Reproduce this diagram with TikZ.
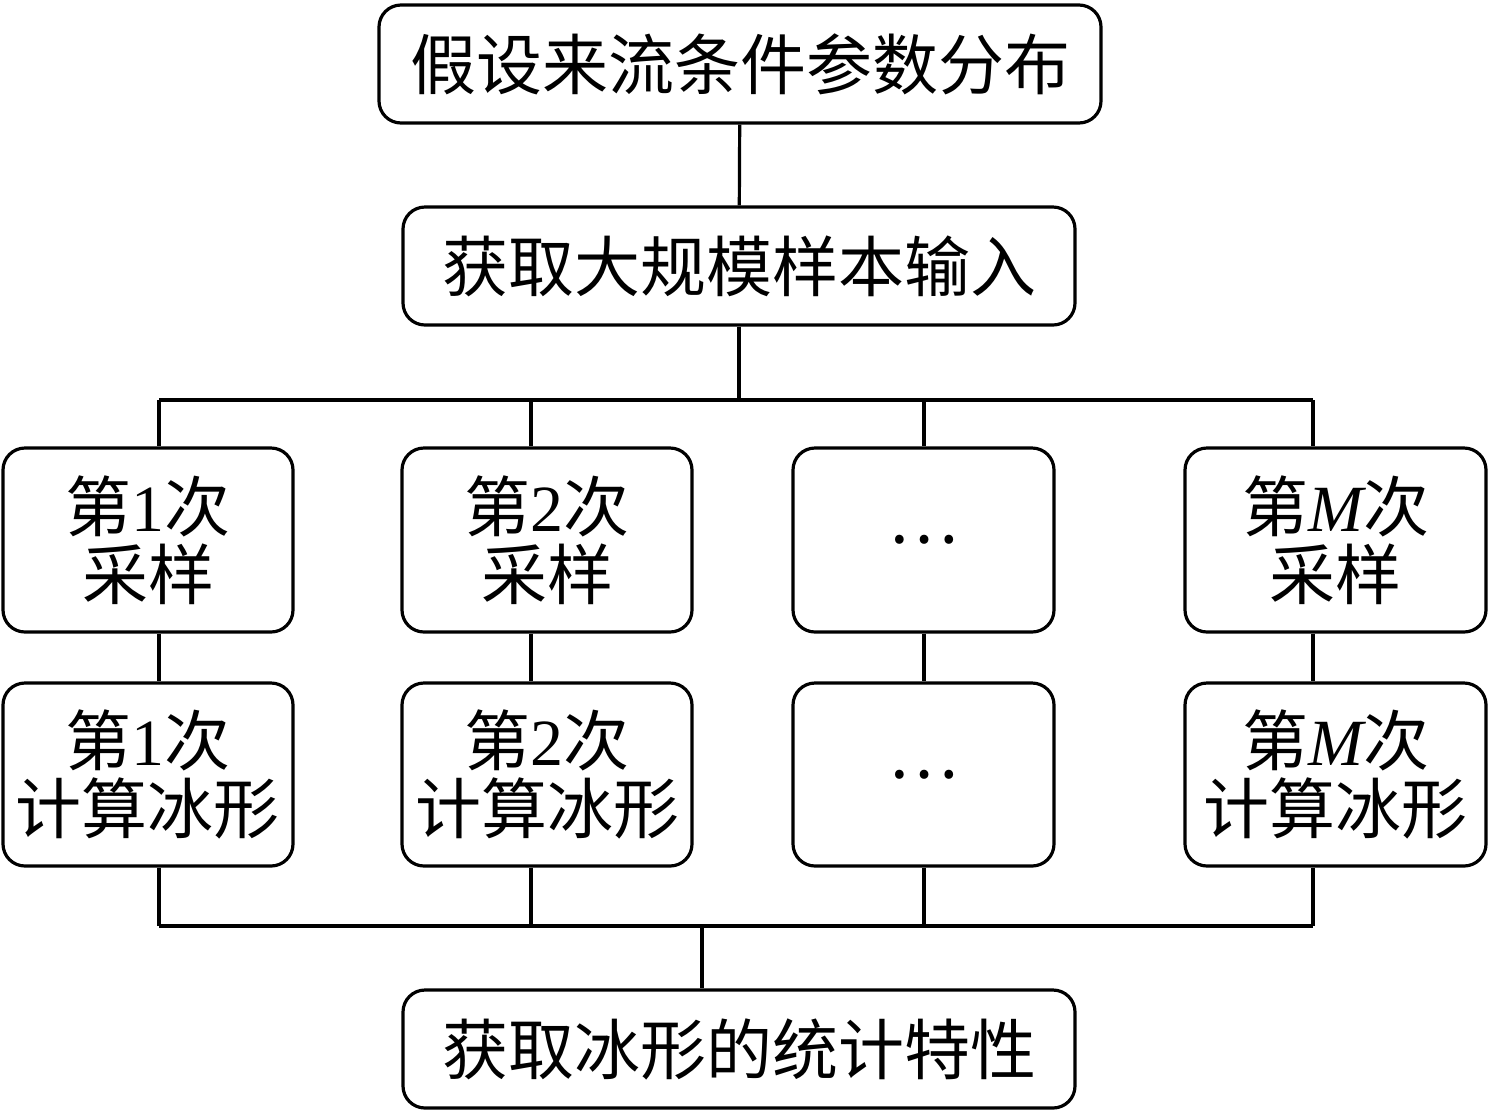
\documentclass[tikz,border=0pt]{standalone}
\usepackage{fontspec}
\setmainfont{Noto Sans CJK SC}
\newfontfamily\lat{Liberation Serif}
\usetikzlibrary{positioning}

\begin{document}
\begin{tikzpicture}[x=0.5pt,y=-0.5pt,line width=1.6pt,
    box/.style={draw,rounded corners=11pt,align=center,inner sep=0pt,
      font=\fontsize{33}{34}\selectfont}]
    \useasboundingbox (0,0) rectangle (1488,1115);

    \node[box,minimum width=361pt,minimum height=59pt] (assume) at (740,64) {假设来流条件参数分布};
    \node[box,minimum width=336pt,minimum height=59pt] (input) at (739,266) {获取大规模样本输入};

    \node[box,minimum width=145pt,minimum height=92pt] (samp1) at (148,540) {第{\lat 1}次\\采样};
    \node[box,minimum width=145pt,minimum height=92pt] (samp2) at (547,540) {第{\lat 2}次\\采样};
    \node[box,minimum width=130.5pt,minimum height=92pt] (samp3) at (923.5,540) {…};
    \node[box,minimum width=150.5pt,minimum height=92pt] (samp4) at (1335.5,540) {第{\lat\itshape M}次\\采样};

    \node[box,minimum width=145pt,minimum height=91.5pt] (ice1) at (148,774.5) {第{\lat 1}次\\计算冰形};
    \node[box,minimum width=145pt,minimum height=91.5pt] (ice2) at (547,774.5) {第{\lat 2}次\\计算冰形};
    \node[box,minimum width=130.5pt,minimum height=91.5pt] (ice3) at (923.5,774.5) {…};
    \node[box,minimum width=150.5pt,minimum height=91.5pt] (ice4) at (1335.5,774.5) {第{\lat\itshape M}次\\计算冰形};

    \node[box,minimum width=336pt,minimum height=59pt] (result) at (739,1049) {获取冰形的统计特性};

    \coordinate (top1) at (159,400);
    \coordinate (top2) at (531,400);
    \coordinate (top3) at (924,400);
    \coordinate (top4) at (1313,400);
    \coordinate (bot1) at (159,926);
    \coordinate (bot2) at (531,926);
    \coordinate (bot3) at (924,926);
    \coordinate (bot4) at (1313,926);
    \coordinate (join) at (702,926);

    \draw (assume) -- (input);
    \draw (input.south) -- (input.south |- top1);
    \draw (top1) -- (top4);
    \draw (top1) -- (top1 |- samp1.north);
    \draw (top2) -- (top2 |- samp2.north);
    \draw (top3) -- (top3 |- samp3.north);
    \draw (top4) -- (top4 |- samp4.north);

    \draw (samp1.south -| top1) -- (ice1.north -| top1);
    \draw (samp2.south -| top2) -- (ice2.north -| top2);
    \draw (samp3.south -| top3) -- (ice3.north -| top3);
    \draw (samp4.south -| top4) -- (ice4.north -| top4);

    \draw (ice1.south -| bot1) -- (bot1);
    \draw (ice2.south -| bot2) -- (bot2);
    \draw (ice3.south -| bot3) -- (bot3);
    \draw (ice4.south -| bot4) -- (bot4);
    \draw (bot1) -- (bot4);
    \draw (join) -- (join |- result.north);
  \end{tikzpicture}
\end{document}
